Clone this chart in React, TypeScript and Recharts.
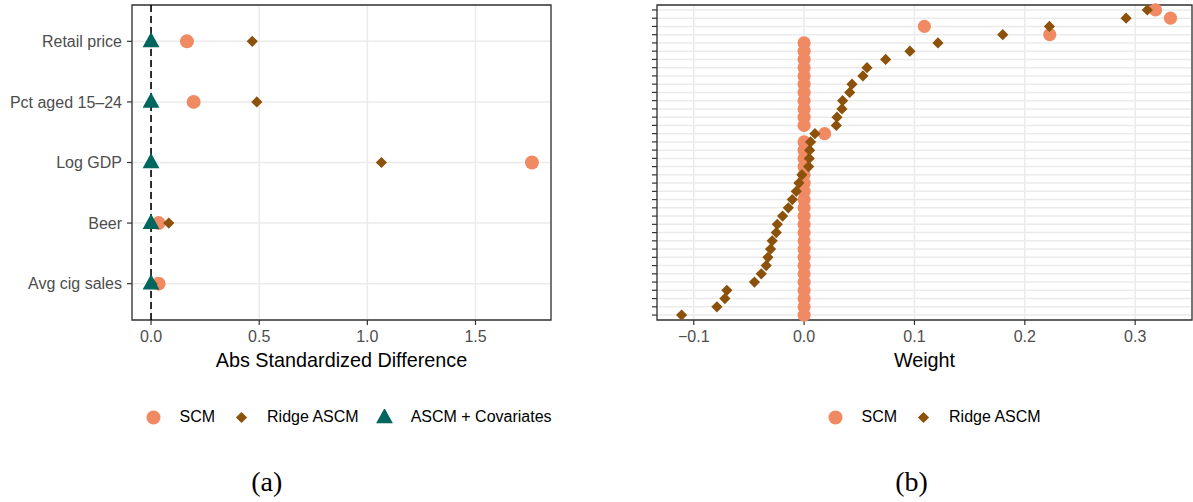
import {
  ScatterChart,
  Scatter,
  XAxis,
  YAxis,
  CartesianGrid,
  ReferenceLine,
  ReferenceArea,
} from 'recharts'

const SANS = '"Liberation Sans", Arial, Helvetica, sans-serif'
const SERIF = '"Liberation Serif", "Times New Roman", serif'

const SCM_COLOR = '#EF8A62'
const RIDGE_COLOR = '#8C510A'
const COV_COLOR = '#01665E'

// panel (a): balance on auxiliary covariates, top row first
const balanceVars = ['Retail price', 'Pct aged 15–24', 'Log GDP', 'Beer', 'Avg cig sales']
const scmDiff = [0.166, 0.197, 1.761, 0.035, 0.035]
const ridgeDiff = [0.468, 0.489, 1.065, 0.082, 0.005]
const covDiff = [0, 0, 0, 0, 0]
const diffTicks = [0, 0.5, 1, 1.5]

// panel (b): donor weights, bottom row first (38 donor states)
const scmWeights = [
  0, 0, 0, 0, 0, 0, 0, 0, 0, 0,
  0, 0, 0, 0, 0, 0, 0, 0, 0, 0,
  0, 0, 0.0186, 0, 0, 0, 0, 0, 0, 0,
  0, 0, 0, 0, 0.2226, 0.109, 0.332, 0.3184,
]
const ridgeWeights = [
  -0.111, -0.079, -0.0718, -0.07, -0.045, -0.0388, -0.0343, -0.0328, -0.0304, -0.0289,
  -0.0252, -0.0243, -0.0195, -0.0143, -0.0107, -0.0071, -0.0047, -0.002, 0.0041, 0.0047,
  0.005, 0.0059, 0.0098, 0.0292, 0.0298, 0.0343, 0.0349, 0.0413, 0.0434, 0.0533,
  0.057, 0.0739, 0.0959, 0.1213, 0.18, 0.2223, 0.2918, 0.311,
]
const weightTicks = [-0.1, 0, 0.1, 0.2, 0.3]

const balanceRows = (vals: number[]) =>
  vals.map((v, i) => ({ x: v, y: balanceVars.length - i, name: balanceVars[i] }))
const weightRows = (vals: number[]) => vals.map((v, i) => ({ x: v, y: i + 1 }))

const donorTicks = scmWeights.map((_, i) => i + 1)

const circle = (r: number, fill: string) => (p: any) =>
  <circle cx={p.cx} cy={p.cy} r={r} fill={fill} />

const diamond = (h: number, fill: string) => (p: any) =>
  (
    <polygon
      points={`${p.cx},${p.cy - h} ${p.cx + h},${p.cy} ${p.cx},${p.cy + h} ${p.cx - h},${p.cy}`}
      fill={fill}
    />
  )

const triangle = (fill: string) => (p: any) =>
  (
    <polygon
      points={`${p.cx},${p.cy - 9.4} ${p.cx + 8.4},${p.cy + 5.8} ${p.cx - 8.4},${p.cy + 5.8}`}
      fill={fill}
    />
  )

const tickStyle = { fill: '#4D4D4D', fontSize: 16, fontFamily: SANS }
const tickLine = { stroke: '#333333', strokeWidth: 1.2 }
const titleStyle = { fill: '#000000', fontSize: 19.8, fontFamily: SANS }

function LegendRow({ items, left }: { items: { label: string; icon: any }[]; left: number }) {
  return (
    <div
      style={{
        position: 'absolute',
        left,
        top: 406,
        height: 22,
        display: 'flex',
        alignItems: 'center',
        fontFamily: SANS,
        fontSize: 16,
        color: '#000',
      }}
    >
      {items.map((it) => (
        <div key={it.label} style={{ display: 'flex', alignItems: 'center', marginRight: 17.5 }}>
          <svg width={17} height={17}>
            {it.icon({ cx: 8.5, cy: 8.5 })}
          </svg>
          <span style={{ marginLeft: 17.5, whiteSpace: 'nowrap' }}>{it.label}</span>
        </div>
      ))}
    </div>
  )
}

function Caption({ text, center }: { text: string; center: number }) {
  return (
    <div
      style={{
        position: 'absolute',
        left: center - 40,
        width: 80,
        top: 466,
        textAlign: 'center',
        fontFamily: SERIF,
        fontSize: 28,
        lineHeight: '32px',
        color: '#000',
      }}
    >
      {text}
    </div>
  )
}

export default function App() {
  const domA: [number, number] = [-0.088, 1.849]
  const domB: [number, number] = [-0.1333, 0.3515]

  return (
    <div
      style={{
        position: 'absolute',
        left: 0,
        top: 0,
        width: 1193,
        height: 502,
        background: '#fff',
        overflow: 'hidden',
      }}
    >
      {/* (a) covariate balance */}
      <div style={{ position: 'absolute', left: 0, top: 0 }}>
        <ScatterChart width={600} height={372} margin={{ top: 5, right: 49, bottom: 0, left: 0 }}>
          <CartesianGrid stroke="#EBEBEB" strokeWidth={1.5} />
          <XAxis
            type="number"
            dataKey="x"
            domain={domA}
            ticks={diffTicks}
            tickFormatter={(v: number) => v.toFixed(1)}
            axisLine={false}
            tickLine={tickLine}
            tickSize={5}
            tickMargin={6}
            tick={tickStyle}
            height={52}
            label={{ value: 'Abs Standardized Difference', position: 'insideBottom', offset: 5, ...titleStyle }}
          />
          <YAxis
            type="number"
            dataKey="y"
            domain={[0.4, balanceVars.length + 0.6]}
            ticks={balanceVars.map((_, i) => i + 1)}
            tickFormatter={(v: number) => balanceVars[balanceVars.length - v]}
            axisLine={false}
            tickLine={tickLine}
            tickSize={5}
            tickMargin={5}
            tick={tickStyle}
            width={132}
          />
          <ReferenceLine x={0} stroke="#000" strokeWidth={1.6} strokeDasharray="7 4" />
          <Scatter data={balanceRows(scmDiff)} shape={circle(7, SCM_COLOR)} isAnimationActive={false} />
          <Scatter data={balanceRows(ridgeDiff)} shape={diamond(5.6, RIDGE_COLOR)} isAnimationActive={false} />
          <Scatter data={balanceRows(covDiff)} shape={triangle(COV_COLOR)} isAnimationActive={false} />
          <ReferenceArea
            x1={domA[0]}
            x2={domA[1]}
            y1={0.4}
            y2={balanceVars.length + 0.6}
            fill="none"
            stroke="#333333"
            strokeWidth={1.3}
            ifOverflow="visible"
          />
        </ScatterChart>
      </div>

      {/* (b) donor weights */}
      <div style={{ position: 'absolute', left: 600, top: 0 }}>
        <ScatterChart width={593} height={372} margin={{ top: 5, right: 1, bottom: 0, left: 0 }}>
          <CartesianGrid stroke="#EBEBEB" strokeWidth={1.5} />
          <XAxis
            type="number"
            dataKey="x"
            domain={domB}
            ticks={weightTicks}
            tickFormatter={(v: number) => v.toFixed(1).replace('-', '\u2212')}
            axisLine={false}
            tickLine={tickLine}
            tickSize={5}
            tickMargin={6}
            tick={tickStyle}
            height={52}
            label={{ value: 'Weight', position: 'insideBottom', offset: 5, ...titleStyle }}
          />
          <YAxis
            type="number"
            dataKey="y"
            domain={[0.4, scmWeights.length + 0.6]}
            ticks={donorTicks}
            tickFormatter={() => ''}
            axisLine={false}
            tickLine={tickLine}
            tickSize={5}
            tick={tickStyle}
            width={57}
          />
          <Scatter data={weightRows(scmWeights)} shape={circle(6.6, SCM_COLOR)} isAnimationActive={false} />
          <Scatter data={weightRows(ridgeWeights)} shape={diamond(5.6, RIDGE_COLOR)} isAnimationActive={false} />
          <ReferenceArea
            x1={domB[0]}
            x2={domB[1]}
            y1={0.4}
            y2={scmWeights.length + 0.6}
            fill="none"
            stroke="#333333"
            strokeWidth={1.3}
            ifOverflow="visible"
          />
        </ScatterChart>
      </div>

      <LegendRow
        left={145}
        items={[
          { label: 'SCM', icon: circle(7, SCM_COLOR) },
          { label: 'Ridge ASCM', icon: diamond(5.6, RIDGE_COLOR) },
          { label: 'ASCM + Covariates', icon: triangle(COV_COLOR) },
        ]}
      />
      <LegendRow
        left={827}
        items={[
          { label: 'SCM', icon: circle(7, SCM_COLOR) },
          { label: 'Ridge ASCM', icon: diamond(5.6, RIDGE_COLOR) },
        ]}
      />

      <Caption text="(a)" center={266.7} />
      <Caption text="(b)" center={911.5} />
    </div>
  )
}
